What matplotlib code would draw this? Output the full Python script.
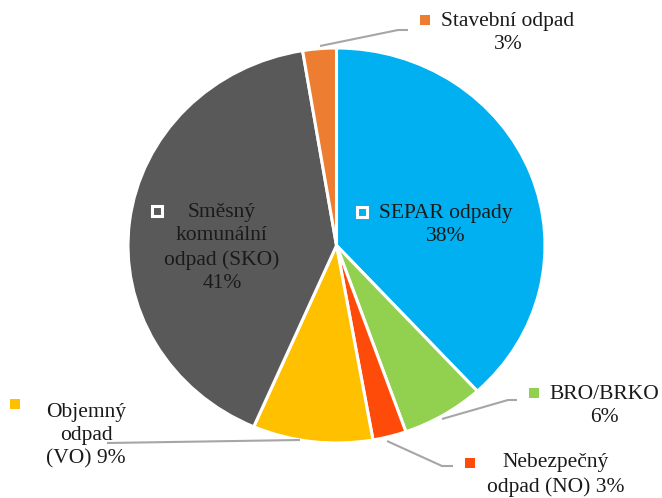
import matplotlib
matplotlib.use("Agg")
import matplotlib.pyplot as plt

categories = ["SEPAR odpady", "BRO/BRKO", "Nebezpečný odpad (NO)", "Objemný odpad (VO)",
              "Směsný komunální odpad (SKO)", "Stavební odpad"]
values = [38.2, 6.4, 2.6, 9.3, 40.9, 2.6]
colors = ["#00B0F0", "#92D050", "#FF4B0A", "#FFC000", "#595959", "#ED7D31"]
label_texts = ["SEPAR odpady\n{}%", "BRO/BRKO\n{}%", "Nebezpečný\nodpad (NO) {}%",
               "Objemný\nodpad\n(VO) {}%", "Směsný\nkomunální\nodpad (SKO)\n{}%",
               "Stavební odpad\n{}%"]

W, H = 662, 498
fig = plt.figure(figsize=(W / 100, H / 100), dpi=100)
cx, cy, rx, ry = 336.5, 245.5, 208.5, 197.5
ax = fig.add_axes([(cx - rx) / W, (H - cy - ry) / H, 2 * rx / W, 2 * ry / H])
ax.pie(values, colors=colors, startangle=90, counterclock=False,
       wedgeprops=dict(edgecolor="white", linewidth=2.2))
ax.set_aspect("auto")
ax.set_xlim(-1, 1)
ax.set_ylim(-1, 1)

# overlay axes in pixel coordinates for labels
ov = fig.add_axes([0, 0, 1, 1], facecolor="none")
ov.set_xlim(0, W)
ov.set_ylim(H, 0)
ov.axis("off")

font = dict(family="Liberation Serif", fontsize=15.5, color="#1a1a1a", linespacing=1.3)

specs = [
    dict(text=(446, 225), marker=(362, 212), line=None),
    dict(text=(604, 406), marker=(534, 393),
         line=[(442, 419), (508, 400), (517, 400)]),
    dict(text=(556, 475), marker=(470, 463),
         line=[(387, 441), (442, 466), (453, 466)]),
    dict(text=(86, 436), marker=(15, 404),
         line=[(300, 440), (107, 443)]),
    dict(text=(222, 248), marker=(157, 211), line=None),
    dict(text=(508, 33), marker=(425, 20),
         line=[(320, 46), (398, 30), (408, 30)]),
]

for i, s in enumerate(specs):
    pct = round(values[i])
    ov.text(s["text"][0], s["text"][1], label_texts[i].format(pct),
            ha="center", va="center", **font)
    inside = s["line"] is None
    ov.plot([s["marker"][0]], [s["marker"][1]], marker="s", markersize=7.5,
            markerfacecolor=colors[i], markeredgecolor="white",
            markeredgewidth=2.2 if inside else 0)
    if s["line"]:
        xs, ys = zip(*s["line"])
        ov.plot(xs, ys, color="#A6A6A6", lw=1.5, solid_capstyle="butt")

fig.savefig("out.png", dpi=100)
